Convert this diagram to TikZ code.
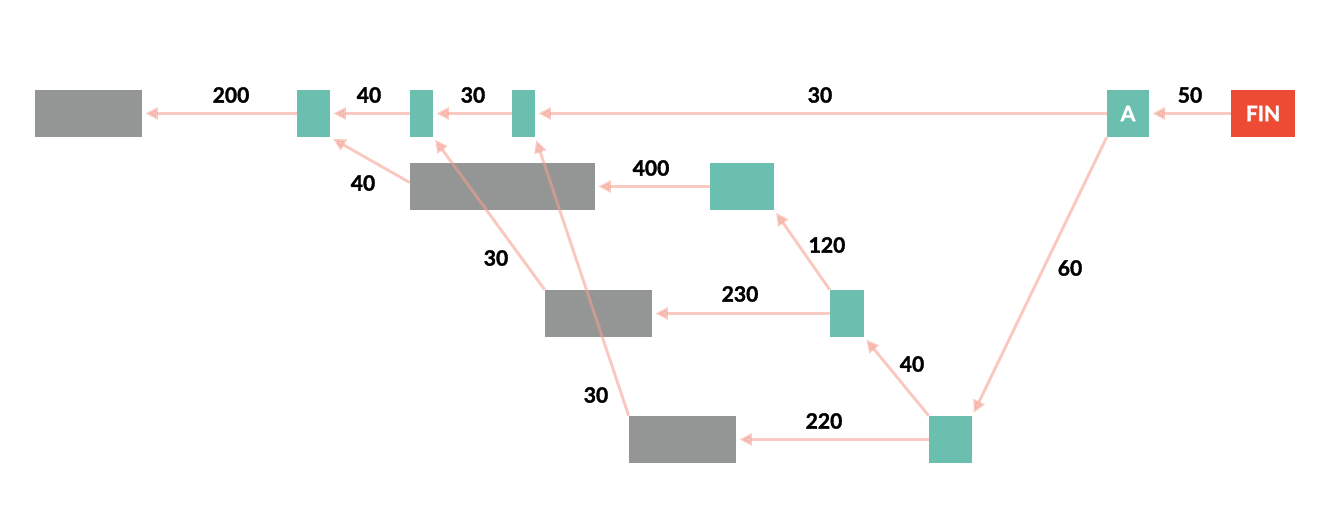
\documentclass[tikz,border=0pt]{standalone}
\usepackage{fontspec}
\setmainfont{Lato}[BoldFeatures={FakeBold=1.6}]
\usetikzlibrary{arrows.meta}
\definecolor{slotteal}{HTML}{6BBFAE}
\definecolor{storegray}{HTML}{939694}
\definecolor{finred}{HTML}{EE4B35}
\definecolor{flowpink}{HTML}{F4A092}

\begin{document}
\begin{tikzpicture}[x=0.02cm,y=-0.02cm,>={Triangle[length=7.2pt,width=6.8pt]},
  every node/.style={inner sep=0pt},
  slot/.style={fill=slotteal,minimum height=0.94cm},
  store/.style={fill=storegray,minimum height=0.94cm},
  flow/.style={->,draw=flowpink,fill=flowpink,line width=1.7pt,opacity=0.55,shorten >=1.7pt},
  num/.style={font=\bfseries\fontsize{12}{14}\selectfont}]
  \useasboundingbox (0,0) rectangle (1337,516);
  % boxes
  \node[store,minimum width=2.14cm] (g1) at (88.5,113.5) {};
  \node[slot,minimum width=0.66cm] (t1) at (313.5,113.5) {};
  \node[slot,minimum width=0.46cm] (t2) at (421.5,113.5) {};
  \node[slot,minimum width=0.46cm] (t3) at (523.5,113.5) {};
  \node[slot,minimum width=0.84cm,text=white,num] (a) at (1128,113.5) {A};
  \node[fill=finred,minimum width=1.28cm,minimum height=0.94cm,text=white,num] (fin) at (1263,113.5) {FIN};
  \node[store,minimum width=3.70cm] (g2) at (502.5,186.5) {};
  \node[slot,minimum width=1.28cm] (t4) at (742,186.5) {};
  \node[store,minimum width=2.14cm] (g3) at (598.5,313.5) {};
  \node[slot,minimum width=0.68cm] (t5) at (847,313.5) {};
  \node[store,minimum width=2.14cm] (g4) at (682.5,439.5) {};
  \node[slot,minimum width=0.86cm] (t6) at (950.5,439.5) {};
  % flows
  \draw[flow] (fin) -- (a);
  \draw[flow] (a) -- (t3);
  \draw[flow] (t3) -- (t2);
  \draw[flow] (t2) -- (t1);
  \draw[flow] (t1) -- (g1);
  \draw[flow] (a.south west) -- (t6.north east);
  \draw[flow] (t6.west) -- (g4);
  \draw[flow] (t6.north west) -- (t5.south east);
  \draw[flow] (t5) -- (g3);
  \draw[flow] (t5.north west) -- (t4.south east);
  \draw[flow] (t4) -- (g2);
  \draw[flow] ([yshift=0.08cm]g2.west) -- (t1.south east);
  \draw[flow] (g3.north west) -- (t2.south east);
  \draw[flow] (g4.north west) -- (t3.south east);
  % labels
  \node[num] (n50) at (1190,95) {50};
  \node[num] (n30a) at (820,95) {30};
  \node[num] (n30b) at (473,95) {30};
  \node[num] (n40a) at (369,95) {40};
  \node[num] (n200) at (231,95) {200};
  \node[num] (n60) at (1070,268) {60};
  \node[num] (n220) at (824,421) {220};
  \node[num] (n40b) at (912,364) {40};
  \node[num] (n230) at (740,294) {230};
  \node[num] (n120) at (827,245) {120};
  \node[num] (n400) at (651,168) {400};
  \node[num] (n40c) at (363,183) {40};
  \node[num] (n30c) at (496,258) {30};
  \node[num] (n30d) at (596,395) {30};
\end{tikzpicture}
\end{document}
